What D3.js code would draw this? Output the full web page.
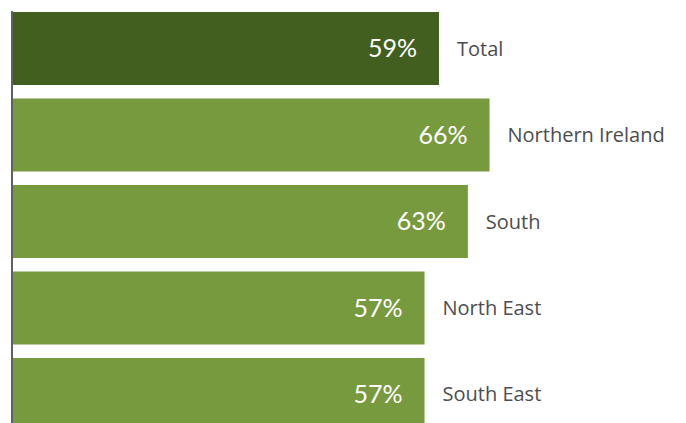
<!DOCTYPE html>
<html>
<head>
<meta charset="utf-8">
<script src="https://cdn.jsdelivr.net/npm/d3@7"></script>
<style>
  html, body { margin: 0; padding: 0; background: #fff; }
  svg { display: block; }
</style>
</head>
<body>
<div id="chart"></div>
<script>
// Share by region
const categories = ["Total", "Northern Ireland", "South", "North East", "South East"];
const values = [59, 66, 63, 57, 57];
const highlight = ["Total"];

const width = 686, height = 423;

const svg = d3.select("#chart").append("svg")
  .attr("width", width)
  .attr("height", height);

const x = d3.scaleLinear().domain([0, 100]).range([13, 735]);
const y = d3.scaleBand().domain(categories).range([12, 431]).paddingInner(0.156);

const rows = categories.map((c, i) => ({ cat: c, val: values[i] }));

const g = svg.append("g");

g.selectAll("rect.bar")
  .data(rows)
  .join("rect")
  .attr("class", "bar")
  .attr("x", x(0))
  .attr("y", d => y(d.cat))
  .attr("width", d => x(d.val) - x(0))
  .attr("height", y.bandwidth())
  .attr("fill", d => highlight.includes(d.cat) ? "#425f20" : "#789a3e");

g.selectAll("text.value")
  .data(rows)
  .join("text")
  .attr("class", "value")
  .attr("x", d => x(d.val) - 22)
  .attr("y", d => y(d.cat) + y.bandwidth() / 2)
  .attr("dy", "0.35em")
  .attr("text-anchor", "end")
  .attr("fill", "#ffffff")
  .style("font-family", "Lato, 'Open Sans', sans-serif")
  .style("font-weight", 400)
  .style("font-size", "25px")
  .text(d => d.val + "%");

g.selectAll("text.cat")
  .data(rows)
  .join("text")
  .attr("class", "cat")
  .attr("x", d => x(d.val) + 18)
  .attr("y", d => y(d.cat) + y.bandwidth() / 2)
  .attr("dy", "0.35em")
  .attr("fill", "#4d4d4d")
  .style("font-family", "'Open Sans', sans-serif")
  .style("font-size", "20px")
  .text(d => d.cat);

// Baseline axis on the left
const axis = svg.append("g")
  .attr("transform", "translate(12,0)")
  .call(d3.axisLeft(y).tickSize(0).tickFormat(""));
axis.select(".domain")
  .attr("d", `M0,11V${height}`)
  .attr("stroke", "#606060")
  .attr("stroke-width", 2);
</script>
</body>
</html>
